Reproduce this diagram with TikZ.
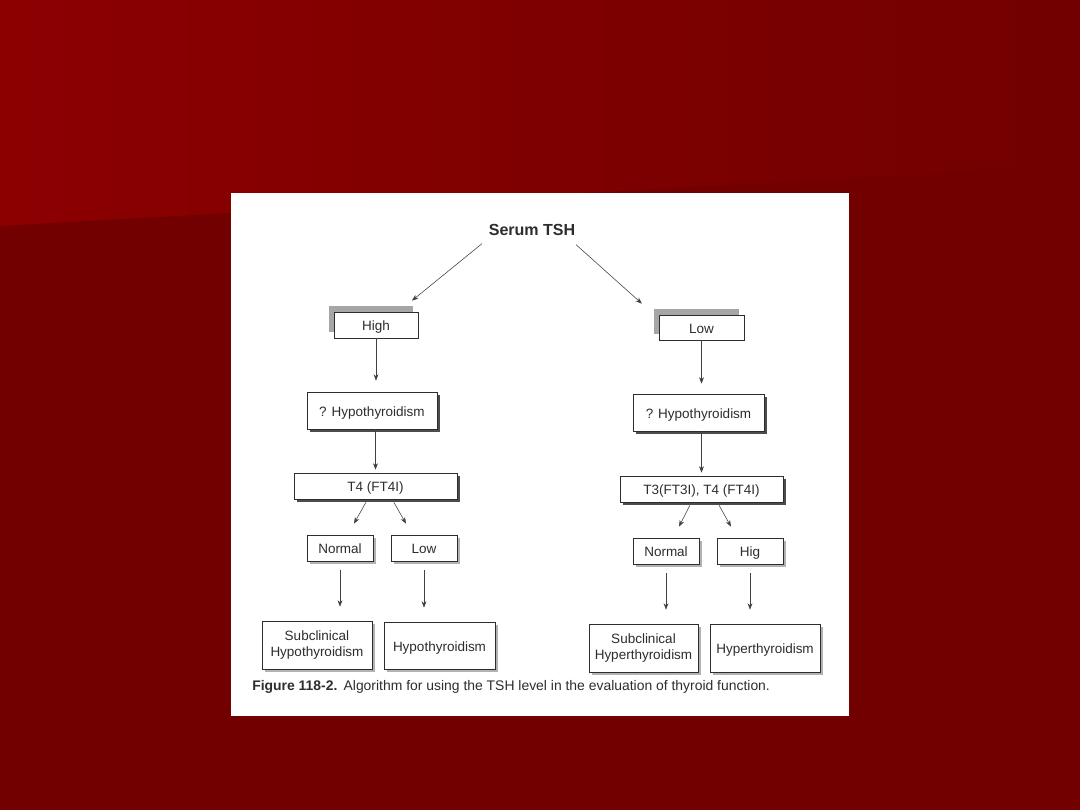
\documentclass[tikz,border=0pt]{standalone}
\usepackage{fontspec}
\setmainfont{Liberation Sans}
\usetikzlibrary{arrows.meta,positioning,shadows,calc}
\definecolor{rojo}{RGB}{140,0,0}
\definecolor{rojof}{RGB}{114,0,0}
\definecolor{tinta}{RGB}{45,45,45}
\tikzset{
  caja/.style={draw=tinta, line width=0.5pt, fill=white, align=center, inner sep=2pt, text=tinta, font=\fontsize{9.6}{11.4}\selectfont},
  una/.style={text height=1.6ex, text depth=0pt},
  sombra/.style={drop shadow={shadow xshift=0.8mm, shadow yshift=-0.8mm, fill=black!70, opacity=1}},
  sombrac/.style={drop shadow={shadow xshift=0.7mm, shadow yshift=-0.7mm, fill=black!30, opacity=1}},
  sombrai/.style={drop shadow={shadow xshift=-1.3mm, shadow yshift=1.5mm, fill=black!35, opacity=1}},
  fl/.style={-{Stealth[length=1.6mm, width=1.2mm]}, line width=0.4pt, draw=black!75},
}
\begin{document}
\begin{tikzpicture}[x=0.25mm, y=-0.25mm]
  % slide background
  \shade[left color=rojo, right color=rojof] (0,0) rectangle (1080,810);
  \fill[rojof] (0,226) -- (1080,165) -- (1080,810) -- (0,810) -- cycle;
  \useasboundingbox (0,0) rectangle (1080,810);
  \fill[white] (231,193) rectangle (849,716);

  \node[font=\bfseries\fontsize{11.4}{13}\selectfont, text=tinta] (tsh) at (532,230) {Serum TSH};
  % high branch
  \node[caja, una, sombrai, minimum width=21mm, minimum height=6.5mm] (alto) at (376,325) {High};
  \node[caja, una, sombra, minimum width=32.5mm, minimum height=9.25mm] (hipoq) at (372,410.5) {? Hypothyroidism};
  \node[caja, una, sombra, minimum width=40.75mm, minimum height=6.5mm] (tcuatro) at (375.5,486) {T4 (FT4I)};
  \node[caja, una, sombrac, minimum width=16.5mm, minimum height=6.5mm] (normi) at (340,548) {Normal};
  \node[caja, una, sombrac, minimum width=16.5mm, minimum height=6.5mm] (bajoi) at (424,548) {Low};
  \node[caja, sombrac, minimum width=27.5mm, minimum height=12mm] (subhipo) at (317,645) {Subclinical\\Hypothyroidism};
  \node[caja, una, sombrac, minimum width=27.75mm, minimum height=11.75mm] (hipo) at (439.5,645.5) {Hypothyroidism};
  % low branch
  \node[caja, una, sombrai, minimum width=21.25mm, minimum height=6.25mm] (bajo) at (701.5,327.5) {Low};
  \node[caja, una, sombra, minimum width=32.75mm, minimum height=9.25mm] (hiperq) at (698.5,412.5) {? Hypothyroidism};
  \node[caja, una, sombra, minimum width=40.75mm, minimum height=6.5mm] (ttres) at (701.5,489) {T3(FT3I), T4 (FT4I)};
  \node[caja, una, sombrac, minimum width=16.5mm, minimum height=6.5mm] (normd) at (666,551) {Normal};
  \node[caja, una, sombrac, minimum width=16.5mm, minimum height=6.5mm] (altod) at (750,551) {Hig};
  \node[caja, sombrac, minimum width=27.25mm, minimum height=12mm] (subhiper) at (643.5,648) {Subclinical\\Hyperthyroidism};
  \node[caja, una, sombrac, minimum width=27.5mm, minimum height=12mm] (hiper) at (765,648) {Hyperthyroidism};

  \node[anchor=west, inner sep=0pt, text=tinta, font=\fontsize{9.9}{12}\selectfont] (pie) at (252,687)
    {\textbf{Figure 118-2.}\hspace{0.45em}Algorithm for using the TSH level in the evaluation of thyroid function.};

  \draw[fl] ([shift={(-12.5mm,-0.75mm)}]tsh.south) -- ([shift={(9mm,2.75mm)}]alto.north);
  \draw[fl] ([shift={(11mm,-1mm)}]tsh.south) -- ([shift={(-14.9mm,2.75mm)}]bajo.north);
  \draw[fl, shorten >=2.75mm] (alto.south) -- (alto.south |- hipoq.north);
  \draw[fl, shorten >=2.5mm] (bajo.south) -- (bajo.south |- hiperq.north);
  \draw[fl, shorten >=0.75mm] (hipoq.south -| tcuatro.north) -- (tcuatro.north);
  \draw[fl, shorten >=0.75mm] (hiperq.south -| ttres.north) -- (ttres.north);
  \draw[fl] ([shift={(-2.4mm,-0.75mm)}]tcuatro.south) -- ([shift={(3.5mm,2.75mm)}]normi.north);
  \draw[fl] ([shift={(4.6mm,-0.75mm)}]tcuatro.south) -- ([shift={(-4.5mm,2.75mm)}]bajoi.north);
  \draw[fl] ([shift={(-2.9mm,-0.75mm)}]ttres.south) -- ([shift={(3.25mm,2.75mm)}]normd.north);
  \draw[fl] ([shift={(4.4mm,-0.75mm)}]ttres.south) -- ([shift={(-4.75mm,2.75mm)}]altod.north);
  \draw[fl, shorten <=2.25mm, shorten >=3.5mm] (normi.south) -- (normi.south |- subhipo.north);
  \draw[fl, shorten <=2.25mm, shorten >=3.5mm] (bajoi.south) -- (bajoi.south |- hipo.north);
  \draw[fl, shorten <=2.25mm, shorten >=3.5mm] (normd.south) -- (normd.south |- subhiper.north);
  \draw[fl, shorten <=2.25mm, shorten >=3.5mm] (altod.south) -- (altod.south |- hiper.north);
\end{tikzpicture}
\end{document}
